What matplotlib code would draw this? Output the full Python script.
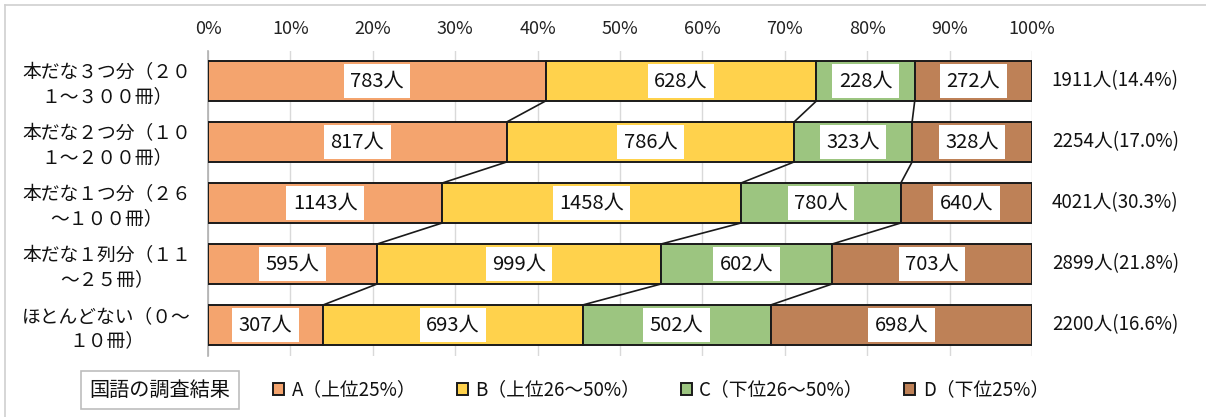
import matplotlib
matplotlib.use("Agg")
import matplotlib.pyplot as plt
import numpy as np
from matplotlib.lines import Line2D

plt.rcParams['font.family'] = ['Noto Sans CJK JP', 'DejaVu Sans']

categories = ["本だな３つ分（２０\n１～３００冊）",
              "本だな２つ分（１０\n１～２００冊）",
              "本だな１つ分（２６\n～１００冊）",
              "本だな１列分（１１\n～２５冊）",
              "ほとんどない（０～\n１０冊）"]
series_names = ["A（上位25%）", "B（上位26～50%）", "C（下位26～50%）", "D（下位25%）"]
A = [783, 817, 1143, 595, 307]
B = [628, 786, 1458, 999, 693]
C = [228, 323, 780, 602, 502]
D = [272, 328, 640, 703, 698]
totals = [1911, 2254, 4021, 2899, 2200]
total_pct = ["14.4%", "17.0%", "30.3%", "21.8%", "16.6%"]
colors = ["#F4A46E", "#FFD24C", "#9CC580", "#BE8157"]
xticks = [0, 10, 20, 30, 40, 50, 60, 70, 80, 90, 100]

W, H = 1206, 417
fig = plt.figure(figsize=(W / 100, H / 100), dpi=100)
ax = fig.add_axes([208 / W, (H - 355.5) / H, (1032 - 208) / W, 305 / H])

counts = np.array([A, B, C, D], dtype=float)
pct = counts / counts.sum(axis=0) * 100
y = np.arange(len(categories))
h = 0.655
left = np.zeros(len(categories))
containers = []
for k in range(4):
    bc = ax.barh(y, pct[k], left=left, height=h, color=colors[k],
                 edgecolor="#1a1a1a", linewidth=1.4, label=series_names[k], zorder=3)
    containers.append(bc)
    for i in range(len(categories)):
        ax.text(left[i] + pct[k][i] / 2, y[i], f"{int(counts[k][i])}人",
                ha="center", va="center", fontsize=14.5, color="#111111", zorder=5,
                bbox=dict(boxstyle="square,pad=0.32", fc="white", ec="none"))
    left = left + pct[k]

# series lines
cum = np.cumsum(pct, axis=0)
for i in range(len(categories) - 1):
    for k in range(3):
        ax.plot([cum[k][i], cum[k][i + 1]], [y[i] + h / 2, y[i + 1] - h / 2],
                color="#1a1a1a", lw=1.2, zorder=2)

ax.set_xlim(0, 100)
ax.set_ylim(len(categories) - 0.5, -0.5)
ax.set_xticks(xticks)
ax.set_xticklabels([f"{t}%" for t in xticks], fontsize=13, color="#222222")
ax.xaxis.tick_top()
ax.tick_params(axis="x", length=0, pad=9)
ax.set_yticks(y)
ax.set_yticklabels(categories, fontsize=13.5, color="#111111", linespacing=1.2, ha="center")
ax.tick_params(axis="y", length=0, pad=73)
ax.grid(axis="x", color="#d9d9d9", lw=1, zorder=0)
for s in ["top", "right", "bottom"]:
    ax.spines[s].set_visible(False)
ax.spines["left"].set_color("#b0b0b0")
ax.spines["left"].set_linewidth(1.2)

for i in range(len(categories)):
    ax.text(1.024, y[i], f"{totals[i]}人({total_pct[i]})", transform=ax.get_yaxis_transform(),
            ha="left", va="center", fontsize=13.5, color="#111111")

# legend title box
fig.text(160 / W, (H - 390) / H, "国語の調査結果", ha="center", va="center", fontsize=14.5,
         color="#111111",
         bbox=dict(boxstyle="square,pad=0.42", fc="white", ec="#bdbdbd", lw=1.2))

leg = fig.legend(handles=containers, labels=series_names, loc="center left",
                 bbox_to_anchor=(256 / W, (H - 390) / H), ncol=4, frameon=False,
                 fontsize=13.5, handlelength=0.6, handleheight=0.6, handletextpad=0.4,
                 columnspacing=2.15)
for t in leg.get_texts():
    t.set_color("#111111")

# outer frame
fig.add_artist(Line2D([5 / W, 1], [1 - 5 / H, 1 - 5 / H], color="#d0d0d0", lw=1.2))
fig.add_artist(Line2D([5 / W, 5 / W], [0, 1 - 5 / H], color="#d0d0d0", lw=1.2))

fig.savefig("out.png", dpi=100)
